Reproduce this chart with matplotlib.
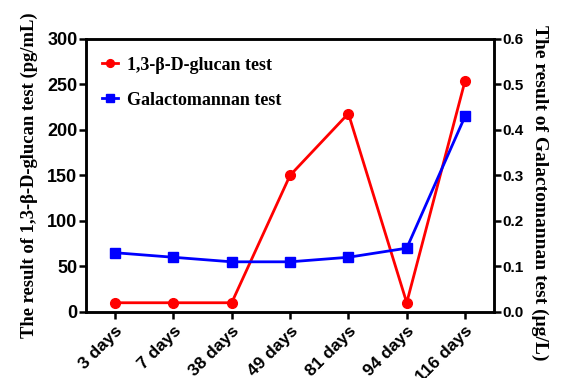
import matplotlib
matplotlib.use("Agg")
import matplotlib.pyplot as plt

categories = ["3 days", "7 days", "38 days", "49 days", "81 days", "94 days", "116 days"]
bdg_values = [10, 10, 10, 150, 218, 10, 254]
gm_values = [0.13, 0.12, 0.11, 0.11, 0.12, 0.14, 0.43]
left_ticks = [0, 50, 100, 150, 200, 250, 300]
right_ticks = [0.0, 0.1, 0.2, 0.3, 0.4, 0.5, 0.6]

fig = plt.figure(figsize=(5.61, 3.78), dpi=100)
ax = fig.add_axes([0.153, 0.175, 0.728, 0.722])
ax2 = ax.twinx()

x = list(range(len(categories)))
l1, = ax.plot(x, bdg_values, color="#ff0000", marker="o", markersize=7, lw=2,
              label="1,3-β-D-glucan test", zorder=3)
l2, = ax2.plot(x, gm_values, color="#0000ff", marker="s", markersize=6.5, lw=2,
               label="Galactomannan test", zorder=2)

ax.set_xlim(-0.5, 6.5)
ax.set_ylim(0, 300)
ax2.set_ylim(0, 0.6)
ax.set_yticks(left_ticks)
ax.set_yticklabels([str(v) for v in left_ticks], fontfamily="Liberation Sans",
                   fontweight="bold", fontsize=13)
ax2.set_yticks(right_ticks)
ax2.set_yticklabels([f"{v:.1f}" for v in right_ticks], fontfamily="Liberation Sans",
                    fontweight="bold", fontsize=11)
ax.set_xticks(x)
ax.set_xticklabels(categories, rotation=45, ha="right", rotation_mode="anchor",
                   fontfamily="Liberation Sans", fontweight="bold", fontsize=12.5)

for a in (ax, ax2):
    for s in a.spines.values():
        s.set_linewidth(1.8)
    a.tick_params(width=1.8, length=5, pad=1)
ax.tick_params(axis="x", pad=3)

ax.set_ylabel("The result of 1,3-β-D-glucan test (pg/mL)", fontfamily="Liberation Serif",
              fontweight="bold", fontsize=13.4)
ax.yaxis.label.set_va("center")
ax.yaxis.set_label_coords(-0.138, 0.5)
ax2.set_ylabel("The result of Galactomannan test (μg/L)", fontfamily="Liberation Serif",
               fontweight="bold", fontsize=14, rotation=270)
ax2.yaxis.label.set_va("center")
ax2.yaxis.set_label_coords(1.112, 0.436)

leg = ax.legend(handles=[l1, l2], loc="upper left", bbox_to_anchor=(0.0, 0.995),
                frameon=False, prop={"family": "Liberation Serif", "weight": "bold", "size": 13},
                handlelength=0.9, handletextpad=0.5, labelspacing=1.0, markerscale=0.8)

fig.savefig("out.png", dpi=100)
